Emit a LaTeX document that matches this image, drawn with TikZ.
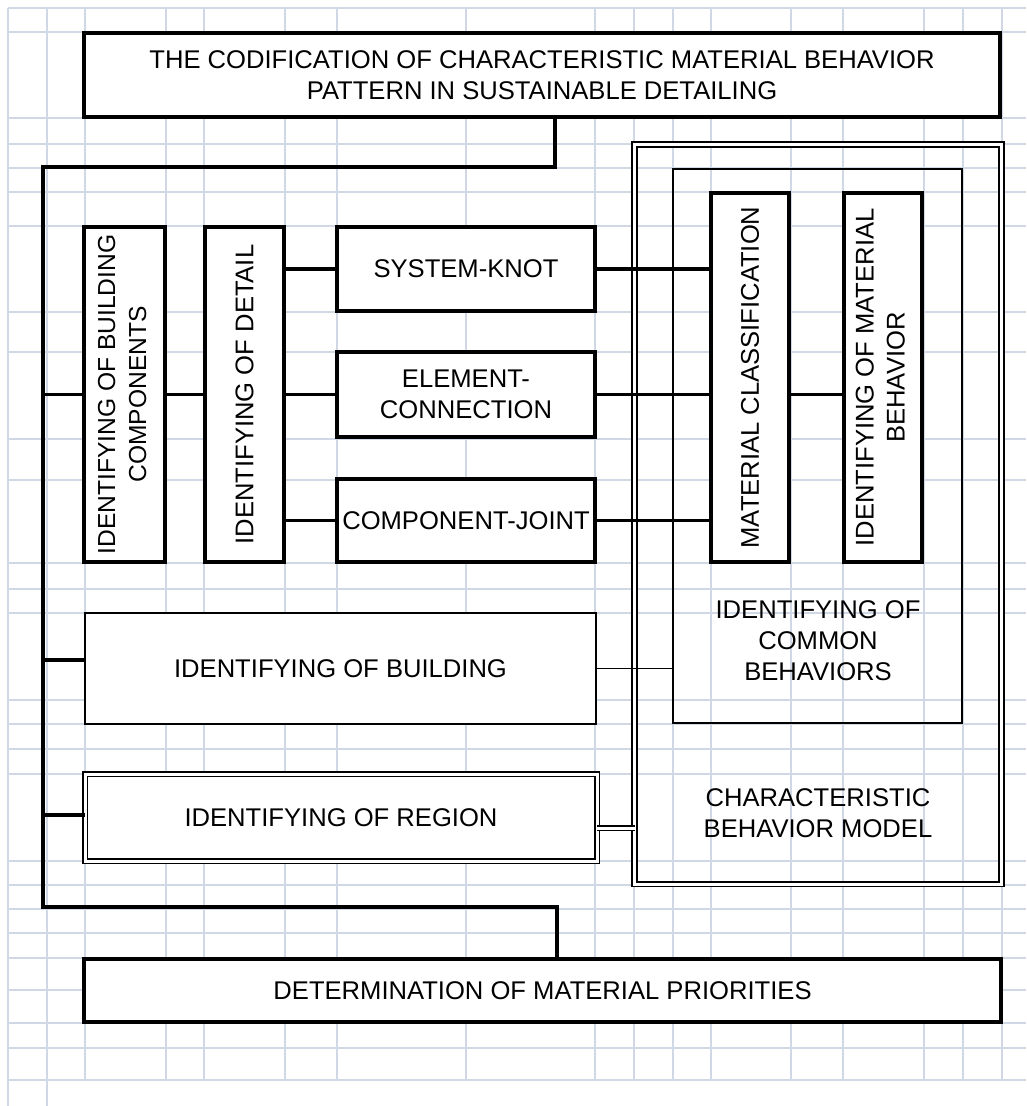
\documentclass[tikz,border=0pt]{standalone}
\usepackage{fontspec}
\setmainfont{Liberation Sans}
\usepackage{graphicx}
\definecolor{gridc}{RGB}{208,216,230}
\begin{document}
\begin{tikzpicture}[x=1pt,y=-1pt,
  every node/.style={font=\fontsize{25.6}{31}\selectfont, align=center, outer sep=0pt, inner sep=0pt},
  thickbox/.style={draw, line width=3.4pt, fill=white, rectangle},
  thinbox/.style={draw, line width=1.8pt, fill=white, rectangle},
  midbox/.style={draw, line width=2.4pt, rectangle},
  dblbox/.style={draw, double, double distance=3pt, line width=1.6pt, rectangle},
  conn/.style={line width=3.4pt},
  thinconn/.style={line width=1.8pt},
  dblconn/.style={double, double distance=3pt, line width=1.8pt},
  gridline/.style={draw=gridc, line width=2pt}]
\useasboundingbox (0,0) rectangle (1026,1106);
\fill[white] (0,0) rectangle (1026,1106);
% background grid
\foreach \y in {8,32,118,144,168,192,226,312,352,439,480,563,589,613,700,724,749,774,861,885,909,933,958,990,1023,1048,1080}
  \draw[gridline] (8,\y) -- (1026,\y);
\foreach \x in {85,166,204,285,337,466,595,634,673,711,791,843,924,963,1002}
  \draw[gridline] (\x,8) -- (\x,1080);
\foreach \x in {8,47}
  \draw[gridline] (\x,8) -- (\x,1106);

% open frames
\node[dblbox, minimum width=367pt, minimum height=739.5pt] (cbm) at (818,514.25) {};
\node (cbmt) at (818,813) {CHARACTERISTIC\\BEHAVIOR MODEL};
\node[midbox, minimum width=289pt, minimum height=554pt] (cb) at (817.5,446) {};
\node (cbt) at (818,641) {IDENTIFYING OF\\COMMON\\BEHAVIORS};

% boxes
\node[thickbox, minimum width=916pt, minimum height=84pt] (title) at (542,75)
  {THE CODIFICATION OF CHARACTERISTIC MATERIAL BEHAVIOR\\PATTERN IN SUSTAINABLE DETAILING};
\node[thickbox, minimum width=81pt, minimum height=335pt, font=\fontsize{24.6}{31}\selectfont] (bc) at (124.5,394.5)
  {\rotatebox{90}{\begin{tabular}{@{}c@{}}IDENTIFYING OF BUILDING\\COMPONENTS\end{tabular}}};
\node[thickbox, minimum width=79pt, minimum height=335pt] (dt) at (244.5,394.5)
  {\rotatebox{90}{IDENTIFYING OF DETAIL}};
\node[thickbox, minimum width=258pt, minimum height=84pt] (sk) at (466,269) {SYSTEM-KNOT};
\node[thickbox, minimum width=258pt, minimum height=85pt] (el) at (466,394.5) {ELEMENT-\\CONNECTION};
\node[thickbox, minimum width=258pt, minimum height=83pt] (cj) at (466,520.5) {COMPONENT-JOINT};
\node[thickbox, minimum width=78pt, minimum height=369pt] (mc) at (750,377.5)
  {\rotatebox{90}{MATERIAL CLASSIFICATION}};
\node[thickbox, minimum width=78pt, minimum height=369pt] (mb) at (883,377.5)
  {\rotatebox{90}{\begin{tabular}{@{}c@{}}IDENTIFYING OF MATERIAL\\BEHAVIOR\end{tabular}}};
\node[thinbox, minimum width=511pt, minimum height=111pt] (bld) at (340.5,668.5) {IDENTIFYING OF BUILDING};
\node[dblbox, fill=white, minimum width=512pt, minimum height=87pt] (rg) at (341,817.5) {IDENTIFYING OF REGION};
\node[thickbox, minimum width=917pt, minimum height=63pt] (det) at (542.5,990.5) {DETERMINATION OF MATERIAL PRIORITIES};

% main bus
\coordinate (b1) at (555,167);
\coordinate (b2) at (43,167);
\coordinate (b3) at (43,907);
\coordinate (b4) at (557,907);
\coordinate (yb) at (0,660);
\coordinate (yr) at (0,815);
\coordinate (yd) at (0,828);
\draw[conn] (title.south -| b1) -- (b1) -- (b2) -- (b3) -- (b4) -- (det.north -| b4);
\draw[conn] (b2 |- bc.west) -- (bc.west);
\draw[conn] (b2 |- yb) -- (bld.west |- yb);
\draw[conn] (b2 |- yr) -- (rg.west |- yr);

% inner connectors
\draw[conn] (bc.east) -- (dt.west);
\draw[conn] (dt.east |- sk.west) -- (sk.west);
\draw[conn] (dt.east |- el.west) -- (el.west);
\draw[conn] (dt.east |- cj.west) -- (cj.west);
\draw[conn] (sk.east) -- (mc.west |- sk.east);
\draw[conn] (el.east) -- (mc.west |- el.east);
\draw[conn] (cj.east) -- (mc.west |- cj.east);
\draw[conn] (mc.east |- el.east) -- (mb.west |- el.east);
\draw[thinconn] (bld.east) -- (cb.west |- bld.east);
\draw[dblconn] (rg.east |- yd) -- (cbm.west |- yd);
\end{tikzpicture}
\end{document}
